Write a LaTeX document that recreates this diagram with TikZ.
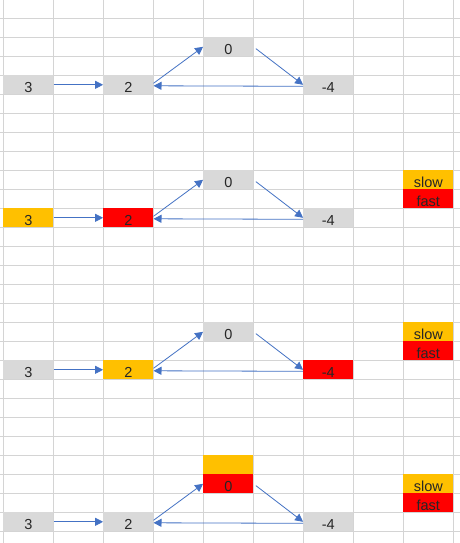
\documentclass[tikz,border=0pt]{standalone}
\usepackage{fontspec}
\setmainfont{Liberation Sans}
\usetikzlibrary{arrows.meta}
\definecolor{cellgray}{HTML}{D9D9D9}
\definecolor{slowcolor}{HTML}{FFC000}
\definecolor{fastcolor}{HTML}{FF0000}
\definecolor{linkblue}{HTML}{4472C4}
\definecolor{gridgray}{HTML}{D4D4D4}
\tikzset{
    cell/.style = {rectangle, inner sep=0pt, minimum width=50pt, minimum height=19pt, text height=14.5pt, text depth=0pt, font=\fontsize{14.5}{16}\selectfont, text=black!85},
    gray_cell/.style = {cell, fill=cellgray},
    slow_cell/.style = {cell, fill=slowcolor},
    fast_cell/.style = {cell, fill=fastcolor},
    link/.style = {draw=linkblue, line width=0.8pt, -{Triangle[length=8pt, width=8pt]}},
    grid_line/.style = {draw=gridgray, line width=0.9pt}
}

\begin{document}
\begin{tikzpicture}[x=1pt, y=-1pt]
    \useasboundingbox (0,0) rectangle (460,543);
    \fill[white] (0,0) rectangle (460,543);
    % sheet grid
    \foreach \i in {0,...,9}
        \draw[grid_line] ({3.3+50*\i},0) -- ({3.3+50*\i},543);
    \foreach \k in {0,...,27}
        \draw[grid_line] (0,{18.3+19*\k}) -- (460,{18.3+19*\k});

    % step 1
    \node [gray_cell] (three1) at (28.3,84.8) {3};
    \node [gray_cell] (two1) at (128.3,84.8) {2};
    \node [gray_cell] (zero1) at (228.3,46.8) {0};
    \node [gray_cell] (neg1) at (328.3,84.8) {-4};

    % step 2
    \node [slow_cell] (three2) at (28.3,217.8) {3};
    \node [fast_cell] (two2) at (128.3,217.8) {2};
    \node [gray_cell] (zero2) at (228.3,179.8) {0};
    \node [gray_cell] (neg2) at (328.3,217.8) {-4};
    \node [slow_cell] (slow2) at (428.3,179.8) {slow};
    \node [fast_cell] (fast2) at (428.3,198.8) {fast};

    % step 3
    \node [gray_cell] (three3) at (28.3,369.8) {3};
    \node [slow_cell] (two3) at (128.3,369.8) {2};
    \node [gray_cell] (zero3) at (228.3,331.8) {0};
    \node [fast_cell] (neg3) at (328.3,369.8) {-4};
    \node [slow_cell] (slow3) at (428.3,331.8) {slow};
    \node [fast_cell] (fast3) at (428.3,350.8) {fast};

    % step 4
    \node [gray_cell] (three4) at (28.3,521.8) {3};
    \node [gray_cell] (two4) at (128.3,521.8) {2};
    \node [slow_cell] (meet4) at (228.3,464.8) {};
    \node [fast_cell] (zero4) at (228.3,483.8) {0};
    \node [gray_cell] (neg4) at (328.3,521.8) {-4};
    \node [slow_cell] (slow4) at (428.3,483.8) {slow};
    \node [fast_cell] (fast4) at (428.3,502.8) {fast};

    % links
    \foreach \n in {1,2,3,4} {
        \draw [link] (three\n) -- (two\n);
        \draw [link] ([yshift=1.5pt]two\n.east) -- (zero\n.west);
        \draw [link, shorten <=3pt] (zero\n.east) -- (neg\n.west);
        \draw [link] ([yshift=-1.5pt]neg\n.west) -- ([yshift=-1pt]two\n.east);
    }
\end{tikzpicture}
\end{document}
